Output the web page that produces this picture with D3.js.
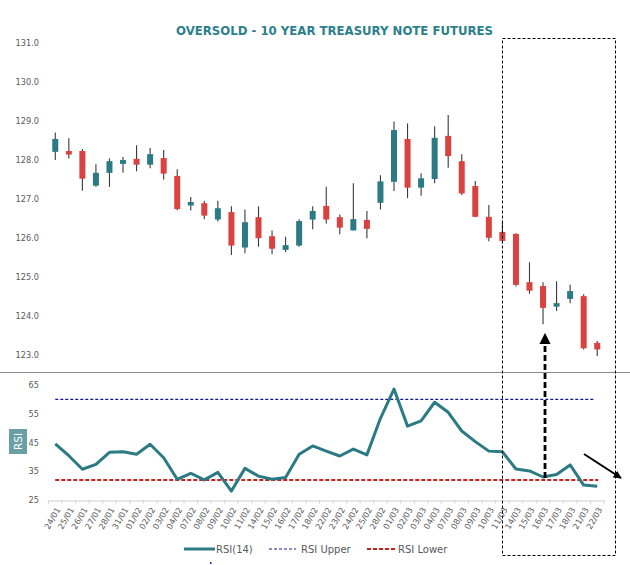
<!DOCTYPE html>
<html><head><meta charset="utf-8">
<script src="https://cdn.jsdelivr.net/npm/d3@7"></script>
<style>
html,body{margin:0;padding:0;background:#fff;}
svg{display:block;font-family:"DejaVu Sans",Verdana,sans-serif;}
</style></head>
<body><svg id="c" width="630" height="565"></svg>
<script>
const dates = ["24/01","25/01","26/01","27/01","28/01","31/01","01/02","02/02","03/02","04/02","07/02","08/02","09/02","10/02","11/02","14/02","15/02","16/02","17/02","18/02","22/02","23/02","24/02","25/02","28/02","01/03","02/03","03/03","04/03","07/03","08/03","09/03","10/03","11/03","14/03","15/03","16/03","17/03","18/03","21/03","22/03"];
const openP  = [128.21,128.23,128.23,127.34,127.67,127.90,128.03,127.88,128.05,127.59,126.83,126.89,126.47,126.66,125.75,126.53,126.04,125.69,125.80,126.47,126.82,126.53,126.19,126.46,126.90,127.44,128.54,127.29,127.51,128.62,127.97,127.33,126.54,126.15,126.10,124.86,124.76,124.23,124.43,124.50,123.30];
const highP  = [128.71,128.56,128.28,127.89,128.04,128.08,128.38,128.31,128.26,127.76,127.05,126.95,126.95,126.81,126.73,126.81,126.19,126.03,126.48,126.81,127.31,126.60,127.40,126.69,127.61,128.99,128.94,127.66,128.87,129.16,128.15,127.46,126.84,126.41,126.12,125.37,124.86,124.88,124.79,124.55,123.35];
const lowP   = [128.00,128.04,127.21,127.31,127.31,127.67,127.71,127.79,127.50,126.71,126.70,126.48,126.42,125.56,125.60,125.77,125.58,125.63,125.77,126.22,126.37,126.09,126.19,125.99,126.73,127.20,127.02,127.08,127.40,127.80,127.10,126.53,125.91,125.86,124.75,124.56,123.78,124.12,124.32,123.13,122.96];
const closeP = [128.54,128.14,127.52,127.67,127.97,128.00,127.88,128.15,127.65,126.74,126.92,126.57,126.76,125.80,126.40,125.99,125.72,125.81,126.43,126.69,126.47,126.26,126.48,126.23,127.45,128.77,127.29,127.53,128.57,128.10,127.14,126.54,126.00,125.92,124.79,124.64,124.20,124.32,124.63,123.16,123.13];
const rsi14  = [44.5,40.4,35.7,37.4,41.6,41.8,40.9,44.4,39.7,32.2,34.3,32.0,34.6,28.1,36.0,33.3,32.2,32.8,40.9,43.8,42.0,40.3,42.7,40.7,53.4,63.6,50.7,52.5,59.0,55.5,49.0,45.3,42.0,41.8,35.8,35.1,33.0,33.9,37.2,30.2,29.8];
const rsiUpper = 60;
const rsiLower = 32;
const priceTicks = [123,124,125,126,127,128,129,130,131];
const rsiTicks = [25,35,45,55,65];
const legendItems = ["RSI(14)","RSI Upper","RSI Lower"];
const titleText = "OVERSOLD - 10 YEAR TREASURY NOTE FUTURES";

const TEAL = "#2b7a84", RED = "#d9423f", GREY = "#595959", BLUE = "#14149a";
const svg = d3.select("#c");

const x = d3.scaleBand().domain(dates).range([48.5, 604]).paddingInner(0).paddingOuter(0);
const cx = d => x(d) + x.bandwidth()/2;
const yP = d3.scaleLinear().domain([123,131]).range([354.5, 43.3]);
const yR = d3.scaleLinear().domain([25,65]).range([500, 385]);

// title
svg.append("text").attr("x",334.5).attr("y",35).attr("text-anchor","middle")
  .attr("font-weight","bold").attr("font-size",12).attr("fill","#2c7f8b")
  .attr("textLength",317).attr("lengthAdjust","spacingAndGlyphs").text(titleText);

// price axis
const gP = svg.append("g").attr("transform","translate(39,0)")
  .call(d3.axisLeft(yP).tickValues(priceTicks).tickFormat(d3.format(".1f")).tickSize(0).tickPadding(0));
gP.select(".domain").remove();
gP.selectAll("text").attr("font-size",8.2).attr("fill",GREY).attr("font-family","DejaVu Sans");

// candles
const data = dates.map((d,i)=>({d,o:openP[i],h:highP[i],l:lowP[i],c:closeP[i]}));
const cg = svg.append("g");
cg.selectAll("line.w").data(data).join("line").attr("class","w")
  .attr("x1",d=>cx(d.d)).attr("x2",d=>cx(d.d))
  .attr("y1",d=>yP(d.h)).attr("y2",d=>yP(d.l))
  .attr("stroke","#3a3a3a").attr("stroke-width",1.1);
cg.selectAll("rect").data(data).join("rect")
  .attr("x",d=>cx(d.d)-3).attr("width",6)
  .attr("y",d=>yP(Math.max(d.o,d.c)))
  .attr("height",d=>Math.max(1.5, yP(Math.min(d.o,d.c))-yP(Math.max(d.o,d.c))))
  .attr("fill",d=>d.c>=d.o?TEAL:RED);

// separator
svg.append("line").attr("x1",0).attr("x2",630).attr("y1",372.5).attr("y2",372.5)
  .attr("stroke","#8a8a8a").attr("stroke-width",1.2);

// RSI axis
const gR = svg.append("g").attr("transform","translate(39,0)")
  .call(d3.axisLeft(yR).tickValues(rsiTicks).tickSize(0).tickPadding(0));
gR.select(".domain").remove();
gR.selectAll("text").attr("font-size",8.2).attr("fill",GREY).attr("font-family","DejaVu Sans");

// RSI label
svg.append("rect").attr("x",9).attr("y",429).attr("width",18).attr("height",25).attr("fill","#6a9fa6");
svg.append("text").attr("transform","translate(22,441.5) rotate(-90)").attr("text-anchor","middle")
  .attr("font-size",10.5).attr("fill","#fff").text("RSI");

// x axis
const gX = svg.append("g").attr("transform","translate(0,500.5)")
  .call(d3.axisBottom(x).tickSize(0).tickPadding(0));
gX.select(".domain").attr("stroke","#d0d0d0");
gX.selectAll("text").remove();
const bounds = dates.map(d=>x(d)).concat([x(dates[dates.length-1])+x.bandwidth()]);
svg.append("g").selectAll("line").data(bounds).join("line")
  .attr("x1",d=>d).attr("x2",d=>d).attr("y1",500.5).attr("y2",503.5).attr("stroke","#d0d0d0");
svg.append("g").selectAll("text").data(dates).join("text")
  .attr("transform",d=>`translate(${cx(d)+3},508) rotate(-60)`)
  .attr("text-anchor","end").attr("dy","0.35em")
  .attr("font-size",8.2).attr("fill",GREY).text(d=>d);

// RSI bands
const x0 = cx(dates[0]), x1 = cx(dates[dates.length-1]);
svg.append("line").attr("x1",x0).attr("x2",x1-3).attr("y1",yR(rsiUpper)).attr("y2",yR(rsiUpper))
  .attr("stroke",BLUE).attr("stroke-width",1.1).attr("stroke-dasharray","3,2");
svg.append("line").attr("x1",x0).attr("x2",x1+1).attr("y1",yR(rsiLower)).attr("y2",yR(rsiLower))
  .attr("stroke","#c81e1e").attr("stroke-width",2).attr("stroke-dasharray","4,2");

// RSI line
svg.append("path").datum(rsi14)
  .attr("d",d3.line().x((v,i)=>cx(dates[i])).y(v=>yR(v)))
  .attr("fill","none").attr("stroke",TEAL).attr("stroke-width",3).attr("stroke-linejoin","round");

// legend
const lg = svg.append("g");
lg.append("line").attr("x1",184).attr("x2",215).attr("y1",549).attr("y2",549).attr("stroke",TEAL).attr("stroke-width",3);
lg.append("text").attr("x",216).attr("y",552.5).attr("font-size",10).attr("fill",GREY).text(legendItems[0]);
lg.append("line").attr("x1",269).attr("x2",296).attr("y1",549).attr("y2",549).attr("stroke",BLUE).attr("stroke-width",1.1).attr("stroke-dasharray","3,2");
lg.append("text").attr("x",301).attr("y",552.5).attr("font-size",10).attr("fill",GREY).text(legendItems[1]);
lg.append("line").attr("x1",367).attr("x2",397).attr("y1",549).attr("y2",549).attr("stroke","#c81e1e").attr("stroke-width",2).attr("stroke-dasharray","4,2");
lg.append("text").attr("x",398).attr("y",552.5).attr("font-size",10).attr("fill",GREY).text(legendItems[2]);
svg.append("rect").attr("x",210).attr("y",562).attr("width",1.5).attr("height",2).attr("fill","#2020c0");

// annotations
const defs = svg.append("defs");
defs.append("marker").attr("id","ah").attr("viewBox","0 0 10 10").attr("refX",9).attr("refY",5)
  .attr("markerWidth",4).attr("markerHeight",4).attr("orient","auto")
  .append("path").attr("d","M0,0 L10,5 L0,10 z").attr("fill","#000");
svg.append("rect").attr("x",502.5).attr("y",38.5).attr("width",113).attr("height",517)
  .attr("fill","none").attr("stroke","#000").attr("stroke-width",1).attr("stroke-dasharray","3,2");
svg.append("line").attr("x1",545).attr("y1",478).attr("x2",545).attr("y2",334)
  .attr("stroke","#000").attr("stroke-width",2.8).attr("stroke-dasharray","6,3").attr("marker-end","url(#ah)");
svg.append("line").attr("x1",584).attr("y1",454).attr("x2",621).attr("y2",478)
  .attr("stroke","#000").attr("stroke-width",2).attr("marker-end","url(#ah)");
</script></body></html>
